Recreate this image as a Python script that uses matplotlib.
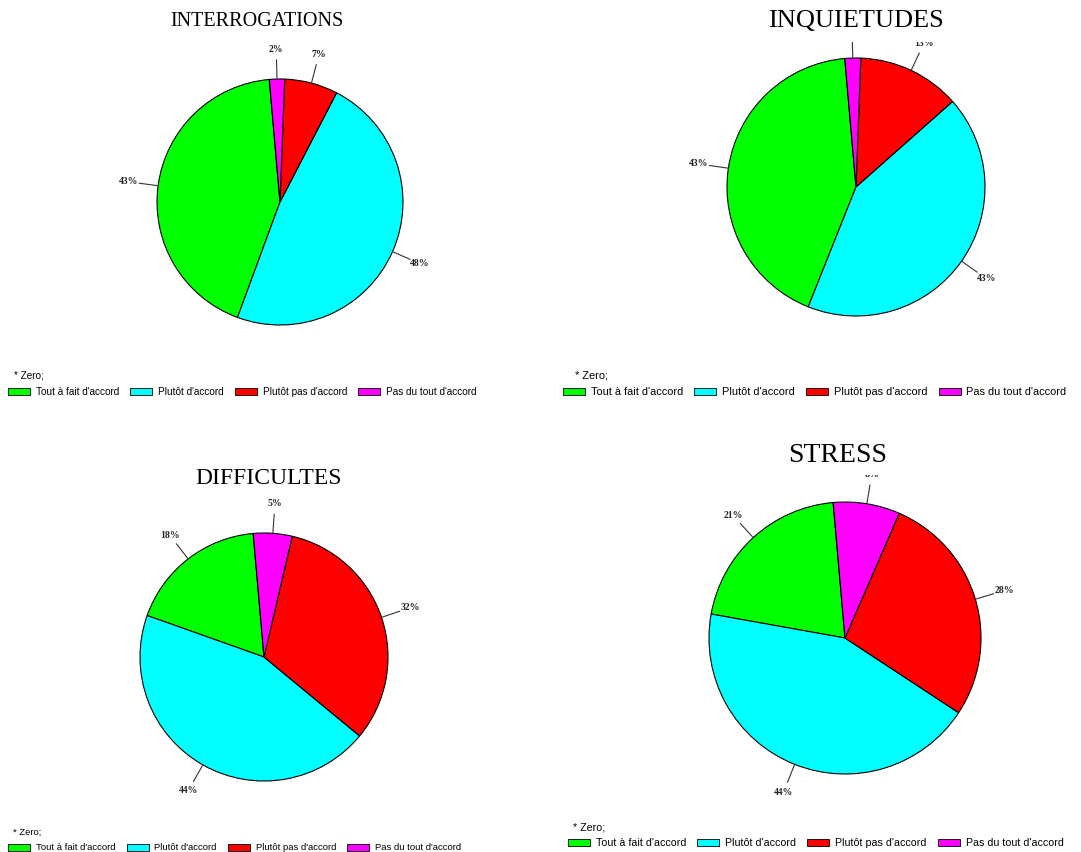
import numpy as np
import matplotlib.pyplot as plt
from matplotlib.patches import Patch, Rectangle
from matplotlib.legend import Legend

W, H = 1081, 852

categories = ["Tout à fait d'accord", "Plutôt d'accord",
              "Plutôt pas d'accord", "Pas du tout d'accord"]
colors = ['#00ff00', '#00ffff', '#ff0000', '#ff00ff']

titles = ['INTERROGATIONS', 'INQUIETUDES', 'DIFFICULTES', 'STRESS']
interrogations = [43, 48, 7, 2]
inquietudes = [43, 43, 13, 2]
difficultes = [18, 44, 32, 5]
stress = [21, 44, 28, 8]
series = [interrogations, inquietudes, difficultes, stress]

# page layout in pixels (y measured from the top)
panels = [
    dict(center=(280, 202), r=123, title=(257, 22), tfs=14.5, clip=None,
         legend=(8, 392), zero=(14, 376), fs=7.2),
    dict(center=(856, 187), r=129, title=(856, 21), tfs=19, clip=42,
         legend=(563, 392), zero=(575, 375), fs=7.9),
    dict(center=(264, 657), r=124, title=(269, 479), tfs=17, clip=None,
         legend=(8, 848), zero=(13, 832), fs=6.8),
    dict(center=(845, 638), r=136, title=(838, 455), tfs=20, clip=475,
         legend=(568, 843), zero=(573, 827), fs=7.65),
]

fig = plt.figure(figsize=(W / 100, H / 100), dpi=100)
ax = fig.add_axes([0, 0, 1, 1])

for name, vals, p in zip(titles, series, panels):
    cx, cy = p['center'][0], H - p['center'][1]
    r = p['r']
    wedges, _ = ax.pie(vals, colors=colors, startangle=95, counterclock=True,
                       center=(cx, cy), radius=r, frame=True,
                       wedgeprops=dict(edgecolor='black', linewidth=0.8))

    clip = None
    if p['clip'] is not None:
        clip = Rectangle((0, 0), W, H - p['clip'], transform=ax.transData)

    # percentage labels with short leader lines
    for w, v in zip(wedges, vals):
        a = np.deg2rad((w.theta1 + w.theta2) / 2)
        ca, sa = np.cos(a), np.sin(a)
        ln, = ax.plot([cx + (r + 1) * ca, cx + (r + 19) * ca],
                      [cy + (r + 1) * sa, cy + (r + 19) * sa],
                      color='#333333', lw=0.8)
        t = ax.text(cx + (r + 30) * ca, cy + (r + 30) * sa, f'{v}%',
                    ha='center', va='center', fontsize=7,
                    family='Liberation Serif', weight='bold', color='#222222')
        if clip is not None:
            ln.set_clip_on(True)
            ln.set_clip_path(clip)
            t.set_clip_on(True)
            t.set_clip_path(clip)

    ax.text(p['title'][0], H - p['title'][1], name, ha='center', va='center',
            fontsize=p['tfs'], family='Liberation Serif')

    lx, ly = p['legend']
    fs = p['fs']
    fpx = fs * 100 / 72
    ax.text(p['zero'][0], H - p['zero'][1], '* Zero;', ha='left', va='center',
            fontsize=fs, family='Liberation Sans')
    handles = [Patch(facecolor=c, edgecolor='black', linewidth=0.6) for c in colors]
    leg = Legend(ax, handles, categories, ncol=4, frameon=False,
                 loc='center left', bbox_to_anchor=(lx, H - ly),
                 bbox_transform=ax.transData, borderpad=0, borderaxespad=0,
                 handlelength=22 / fpx, handleheight=7 / fpx,
                 handletextpad=6 / fpx, columnspacing=11 / fpx,
                 prop=dict(family='Liberation Sans', size=fs))
    ax.add_artist(leg)

ax.set_xlim(0, W)
ax.set_ylim(0, H)
ax.set_aspect('auto')
ax.axis('off')

fig.savefig('out.png', dpi=100, facecolor='white')
